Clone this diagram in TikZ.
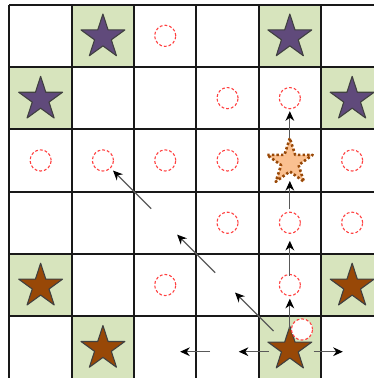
\documentclass[tikz,border=0pt]{standalone}
\usepackage{xcolor}
\usepackage{tikz}
\usetikzlibrary{arrows.meta,shapes.geometric}

\definecolor{cellgreen}{HTML}{D7E4BD}
\definecolor{starpurple}{HTML}{604A7B}
\definecolor{starbrown}{HTML}{984807}
\definecolor{starorange}{HTML}{FAC090}

\tikzset{
  cellfill/.style={fill=cellgreen},
  gridline/.style={line width=0.9pt,black!90},
  spot/.style={circle,draw=red!75,dash pattern=on 1.3pt off 0.9pt,line width=0.5pt,minimum size=0.34cm,inner sep=0pt},
  goal/.style={star,star points=5,star point ratio=2.618,minimum size=0.74cm,inner sep=0pt,draw=black!75,line width=0.5pt},
  agent/.style={star,star points=5,star point ratio=2.618,minimum size=0.77cm,inner sep=0pt,fill=starorange,draw=starbrown,line width=1.2pt,dash pattern=on 1.1pt off 1pt},
  flow/.style={draw=black!65,line width=0.5pt,-{Stealth[length=4.4pt,width=4pt,color=black]}}
}

\begin{document}
\begin{tikzpicture}[line join=round]
  \clip (-0.152,0.075) rectangle (5.851,-5.992);
  \foreach \r in {0,...,5}
    \foreach \c in {0,...,5}
      \coordinate (C\r\c) at (\c+0.5,-\r-0.5);
  % shaded cells
  \fill[cellfill] (1,0) rectangle (2,-1);
  \fill[cellfill] (4,0) rectangle (5,-1);
  \fill[cellfill] (0,-1) rectangle (1,-2);
  \fill[cellfill] (5,-1) rectangle (6,-2);
  \fill[cellfill] (0,-4) rectangle (1,-5);
  \fill[cellfill] (5,-4) rectangle (6,-5);
  \fill[cellfill] (1,-5) rectangle (2,-6);
  \fill[cellfill] (4,-5) rectangle (5,-6);
  \draw[gridline] (0,0) grid (6,-6);
  % stars
  \node[goal,fill=starpurple] (K01) at ([yshift=-0.02cm]C01) {};
  \node[goal,fill=starpurple] (K04) at ([yshift=-0.02cm]C04) {};
  \node[goal,fill=starpurple] (K10) at ([yshift=-0.02cm]C10) {};
  \node[goal,fill=starpurple] (K15) at ([yshift=-0.02cm]C15) {};
  \node[goal,fill=starbrown] (K40) at ([yshift=-0.02cm]C40) {};
  \node[goal,fill=starbrown] (K45) at ([yshift=-0.02cm]C45) {};
  \node[goal,fill=starbrown] (K51) at ([yshift=-0.02cm]C51) {};
  \node[goal,fill=starbrown] (K54) at ([yshift=-0.03cm]C54) {};
  \node[agent] (A24) at ([yshift=-0.03cm]C24) {};
  % spots
  \node[spot] (S02) at (C02) {};
  \node[spot] (S13) at (C13) {};
  \node[spot] (S14) at (C14) {};
  \node[spot] (S20) at (C20) {};
  \node[spot] (S21) at (C21) {};
  \node[spot] (S22) at (C22) {};
  \node[spot] (S23) at (C23) {};
  \node[spot] (S25) at (C25) {};
  \node[spot] (S33) at (C33) {};
  \node[spot] (S34) at (C34) {};
  \node[spot] (S35) at (C35) {};
  \node[spot] (S42) at (C42) {};
  \node[spot] (S44) at (C44) {};
  \node[spot,fill=white] (S54) at ([shift={(0.195,0.287)}]C54) {};
  % moves up
  \draw[flow,shorten <=0.30cm,shorten >=0.22cm] (C54) -- (C44);
  \draw[flow,shorten <=0.15cm,shorten >=0.29cm] (C44) -- (C34);
  \draw[flow,shorten <=0.22cm,shorten >=0.33cm] (C34) -- (C24);
  \draw[flow,shorten <=0.36cm,shorten >=0.21cm] (C24) -- (C14);
  % moves along the diagonal
  \draw[flow,shorten <=0.37cm,shorten >=0.17cm] (C54) -- (C43);
  \draw[flow,shorten <=0.28cm,shorten >=0.27cm] (C43) -- (C32);
  \draw[flow,shorten <=0.32cm,shorten >=0.23cm] (C32) -- (C21);
  % moves sideways
  \draw[flow,shorten <=0.38cm,shorten >=0.15cm] ([yshift=-0.07cm]C54) -- ([yshift=-0.07cm]C55);
  \draw[flow,shorten <=0.34cm,shorten >=0.18cm] ([yshift=-0.07cm]C54) -- ([yshift=-0.07cm]C53);
  \draw[flow,shorten <=0.28cm,shorten >=0.24cm] ([yshift=-0.07cm]C53) -- ([yshift=-0.07cm]C52);
\end{tikzpicture}
\end{document}
